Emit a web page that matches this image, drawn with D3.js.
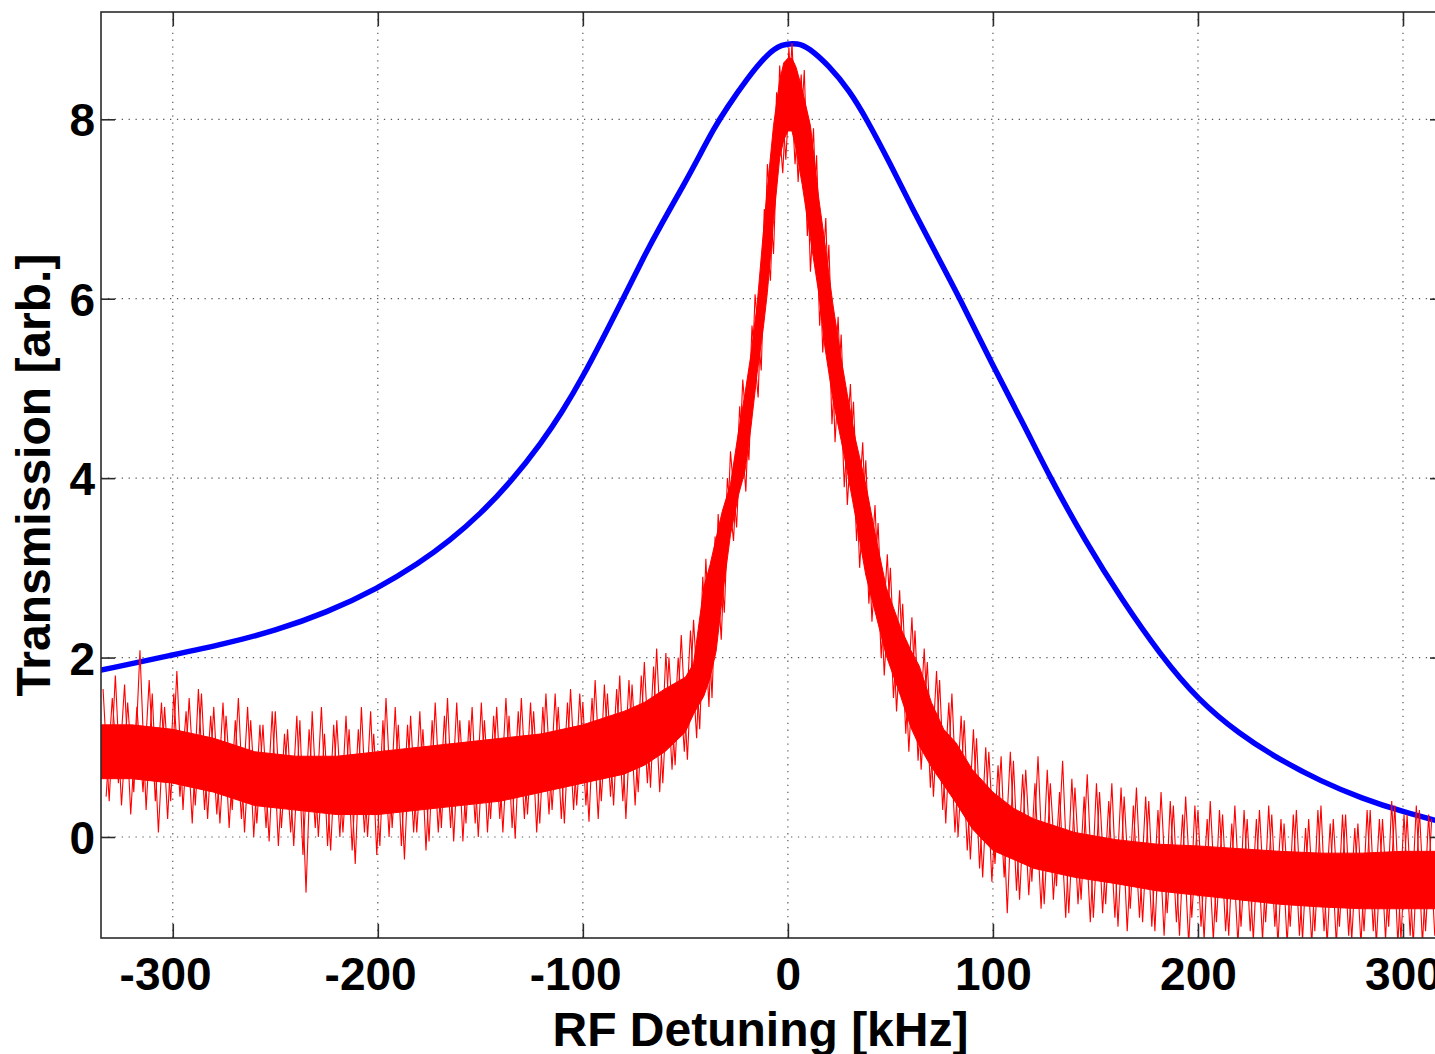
<!DOCTYPE html>
<html><head><meta charset="utf-8">
<script src="https://cdn.jsdelivr.net/npm/d3@7"></script>
<style>
html,body{margin:0;padding:0;background:#fff;overflow:hidden}
svg{display:block}
text{font-family:"Liberation Sans",Arial,Helvetica,sans-serif;font-weight:bold;fill:#000}
</style></head><body>
<svg id="chart" width="1435" height="1054"></svg>
<script>
// ---- data ----
const xLimits = [-335, 320];
const yLimits = [-1.126, 9.196];
const xTicks = [-300, -200, -100, 0, 100, 200, 300];
const yTicks = [0, 2, 4, 6, 8];
const xLabel = "RF Detuning [kHz]";
const yLabel = "Transmission [arb.]";

// blue (smooth) trace
const blueX = [-335,-300,-275,-250,-225,-200,-180,-165,-150,-135,-120,-110,-100,-90,-81,-70,-62,-50,-43,-36,-30,-20,-10,-3,5,10,20,30,38.5,50,60,70,84,100,115,128,145,163,182,200,220,240,260,280,300,320];
const blueY = [1.86,2.03,2.15,2.3,2.5,2.77,3.05,3.3,3.6,3.96,4.4,4.74,5.13,5.57,5.97,6.48,6.82,7.3,7.6,7.9,8.12,8.45,8.73,8.84,8.85,8.8,8.6,8.32,8.0,7.5,7.04,6.6,6.0,5.25,4.6,4.0,3.3,2.64,2.02,1.53,1.15,0.86,0.62,0.43,0.28,0.16];

// red (noisy) trace: dense core band
const redCoreX = [-335,-320,-300,-280,-260,-240,-220,-200,-180,-160,-140,-120,-100,-80,-70,-60,-50,-46,-41,-38,-35,-32,-28,-24,-21,-18,-15,-12,-10,-7,-4,-2,0,2,4,7,11,15,18,22,26,29,33,38,43,48,55,60,64,70,76,82,90,100,110,120,140,160,180,200,220,240,260,280,300,320];
const redCoreHi = [1.25,1.25,1.2,1.1,0.95,0.9,0.9,0.95,1.0,1.05,
  1.1,1.15,1.25,1.4,1.5,1.65,1.78,1.93,2.78,3.03,
  3.33,3.63,3.93,4.53,4.93,5.38,5.93,6.73,7.23,7.93,
  8.43,8.63,8.68,8.68,8.58,8.33,7.93,7.13,6.63,5.93,
  5.33,4.93,4.43,3.93,3.33,2.78,2.33,2.08,1.91,1.5,
  1.2,1.05,0.75,0.5,0.32,0.2,0.05,-0.03,-0.08,-0.1,
  -0.13,-0.16,-0.18,-0.18,-0.16,-0.16];
const redCoreLo = [0.65,0.65,0.6,0.5,0.35,0.3,0.25,0.25,0.3,0.35,
  0.4,0.5,0.6,0.7,0.8,0.95,1.17,1.37,1.57,1.77,
  2.07,2.67,3.37,3.82,4.07,4.57,5.17,5.67,6.07,6.87,
  7.57,7.77,7.87,7.87,7.67,7.27,6.67,6.07,5.47,4.87,
  4.42,4.07,3.57,2.92,2.47,2.02,1.57,1.22,1.02,0.78,
  0.58,0.38,0.09,-0.15,-0.25,-0.35,-0.45,-0.52,-0.6,-0.65,
  -0.7,-0.75,-0.78,-0.8,-0.8,-0.8];

// red trace extremes, two interleaved samplings (every 3 kHz)
const redTraceAStart = -334, redTraceBStart = -332.5, redTraceStep = 3;
const redTraceA = [
  1.65,0.4,1.8,0.35,1.5,0.5,2.08,0.3,1.6,0.05,
  1.45,0.4,1.85,0.3,1.55,0.35,1.6,0.2,1.45,0.15,
  1.35,0.3,1.55,0.05,1.3,0.15,1.25,-0.05,1.4,0.1,
  1.2,-0.1,1.3,-0.62,1.4,0.0,1.15,-0.15,1.3,0.05,
  1.2,-0.3,1.45,0.0,1.15,-0.1,1.55,0.1,1.25,-0.25,
  1.35,0.05,1.2,-0.05,1.5,0.1,1.55,-0.05,1.3,0.15,
  1.45,0.0,1.3,0.2,1.45,0.05,1.35,-0.02,1.55,0.25,
  1.4,0.15,1.6,0.3,1.45,0.15,1.65,0.35,1.5,0.17,
  1.75,0.4,1.6,0.35,1.8,0.2,1.7,0.5,1.95,0.55,
  2.1,0.6,2.0,0.8,2.25,0.86,2.42,1.2,3.1,1.55,
  3.6,2.5,4.3,3.45,5.1,4.2,6.05,5.2,7.5,6.5,
  8.6,7.55,8.85,7.3,8.55,6.3,7.6,5.4,6.6,4.4,
  5.6,3.7,4.85,3.0,4.2,2.4,3.5,1.8,3.0,1.4,
  2.6,0.95,2.3,0.75,1.95,0.45,1.75,0.15,1.6,0.0,
  1.3,-0.25,1.1,-0.45,0.95,-0.3,0.9,-0.85,0.85,-0.7,
  0.75,-0.5,0.9,-0.75,0.6,-0.55,0.85,-0.85,0.55,-0.7,
  0.7,-0.9,0.5,-0.75,0.6,-1.0,0.45,-0.8,0.55,-0.95,
  0.4,-1.05,0.5,-0.85,0.35,-1.1,0.45,-0.9,0.3,-1.15,
  0.4,-0.95,0.25,-1.1,0.35,-1.0,0.2,-1.15,0.3,-0.95,
  0.25,-1.2,0.15,-1.0,0.3,-1.15,0.2,-1.05,0.35,-1.2,
  0.2,-1.0,0.25,-1.15,0.15,-1.05,0.3,-1.2,0.2,-1.0,
  0.35,-1.15,0.25,-1.2,0.3,-1.05,0.2
];
const redTraceB = [
  0.45,1.55,0.6,1.7,0.25,1.45,0.5,1.75,0.4,1.5,
  0.2,1.6,0.45,1.4,0.15,1.65,0.3,1.35,0.25,1.5,
  0.1,1.3,0.2,1.45,0.0,1.25,0.1,1.4,-0.1,1.15,
  0.05,1.35,-0.2,1.2,0.1,1.45,-0.1,1.25,0.0,1.35,
  -0.15,1.2,0.05,1.4,-0.2,1.3,0.0,1.45,-0.1,1.25,
  0.05,1.4,-0.15,1.3,0.05,1.35,0.1,1.5,-0.05,1.3,
  0.15,1.5,0.05,1.35,0.2,1.55,0.1,1.4,0.2,1.5,
  0.05,1.45,0.25,1.6,0.2,1.5,0.3,1.6,0.35,1.55,
  0.2,1.7,0.45,1.65,0.4,1.75,0.35,1.8,0.6,1.9,
  0.5,2.05,0.75,2.0,0.95,2.3,1.1,2.9,1.45,3.35,
  2.2,4.0,3.3,4.8,3.85,5.7,4.9,7.0,6.2,8.3,
  7.4,8.8,7.5,8.5,6.7,7.9,5.7,6.9,4.6,5.8,
  3.9,5.05,3.3,4.4,2.6,3.7,2.0,3.15,1.55,2.75,
  1.15,2.45,0.85,2.1,0.55,1.85,0.3,1.5,0.05,1.35,
  -0.15,1.2,-0.35,1.0,-0.5,0.8,-0.45,0.95,-0.6,0.7,
  -0.65,0.6,-0.8,0.75,-0.7,0.5,-0.9,0.65,-0.75,0.45,
  -0.95,0.6,-0.85,0.4,-0.9,0.55,-1.05,0.35,-0.9,0.45,
  -1.0,0.3,-1.1,0.4,-0.95,0.25,-1.2,0.35,-1.0,0.2,
  -1.15,0.3,-1.05,0.15,-1.2,0.3,-1.05,0.2,-1.15,0.35,
  -1.0,0.2,-1.2,0.25,-1.1,0.1,-1.2,0.3,-1.05,0.15,
  -1.2,0.25,-1.1,0.1,-1.2,0.3,-1.05,0.2,-1.15,0.4,
  -1.2,0.25,-1.1,0.35,-1.2,0.25,-1.1
];

// ---- drawing ----
(function draw() {
const svg = d3.select("#chart");
const pLeft = 101, pRight = 1444, pTop = 12, pBottom = 938;
const x = d3.scaleLinear().domain(xLimits).range([pLeft, pRight]);
const y = d3.scaleLinear().domain(yLimits).range([pBottom, pTop]);
const axisColor = "#2b2b2b";

svg.append("defs").append("clipPath").attr("id", "plotclip")
  .append("rect").attr("x", pLeft).attr("y", pTop)
  .attr("width", pRight - pLeft).attr("height", pBottom - pTop);

// grid
const grid = svg.append("g").attr("stroke", "#5a5a5a").attr("stroke-width", 1.2)
  .attr("stroke-dasharray", "1.3,5.6");
grid.selectAll(".gx").data(xTicks).join("line")
  .attr("x1", d => x(d)).attr("x2", d => x(d)).attr("y1", pTop).attr("y2", pBottom);
grid.selectAll(".gy").data(yTicks).join("line")
  .attr("y1", d => y(d)).attr("y2", d => y(d)).attr("x1", pLeft).attr("x2", pRight);

const plot = svg.append("g").attr("clip-path", "url(#plotclip)");

// blue
const blueData = blueX.map((v, i) => [v, blueY[i]]);
plot.append("path").datum(blueData)
  .attr("fill", "none").attr("stroke", "#0000ff").attr("stroke-width", 5.5)
  .attr("stroke-linejoin", "round").attr("stroke-linecap", "round")
  .attr("d", d3.line().x(d => x(d[0])).y(d => y(d[1])).curve(d3.curveBasis));

// red core band
const coreData = redCoreX.map((v, i) => ({x: v, lo: redCoreLo[i], hi: redCoreHi[i]}));
plot.append("path").datum(coreData)
  .attr("fill", "#ff0000").attr("stroke", "#ff0000").attr("stroke-width", 1)
  .attr("d", d3.area().x(d => x(d.x)).y0(d => y(d.lo)).y1(d => y(d.hi)).curve(d3.curveLinear));

// red traces
const traceLine = d3.line().x(d => x(d[0])).y(d => y(d[1]));
[[redTraceA, redTraceAStart], [redTraceB, redTraceBStart]].forEach(([vals, start]) => {
  const data = vals.map((v, i) => [start + i * redTraceStep, v]);
  plot.append("path").datum(data)
    .attr("fill", "none").attr("stroke", "#ff0000").attr("stroke-width", 1.1)
    .attr("stroke-linejoin", "bevel").attr("d", traceLine);
});

// axes (ticks inward)
const fontTick = 46;
const fmt = d => String(d);
const gB = svg.append("g").attr("transform", `translate(0,${pBottom})`)
  .call(d3.axisBottom(x).tickValues(xTicks).tickSize(-14).tickFormat(fmt));
const gT = svg.append("g").attr("transform", `translate(0,${pTop})`)
  .call(d3.axisTop(x).tickValues(xTicks).tickSize(-14).tickFormat(""));
const gL = svg.append("g").attr("transform", `translate(${pLeft},0)`)
  .call(d3.axisLeft(y).tickValues(yTicks).tickSize(-14).tickPadding(6).tickFormat(fmt));
const gR = svg.append("g").attr("transform", `translate(${pRight},0)`)
  .call(d3.axisRight(y).tickValues(yTicks).tickSize(-14).tickFormat(""));
[gB, gT, gL, gR].forEach(g => {
  g.select(".domain").remove();
  g.selectAll(".tick line").attr("stroke", axisColor).attr("stroke-width", 1.6);
  g.selectAll("text").attr("font-size", fontTick).attr("fill", "#000")
    .attr("font-family", '"Liberation Sans",Arial,Helvetica,sans-serif').attr("font-weight", "bold");
});
// x tick labels: digits centred on the tick, minus hanging to the left
const measure = svg.append("text").attr("font-size", fontTick).attr("visibility", "hidden");
gB.selectAll(".tick text").each(function(d) {
  measure.text(String(Math.abs(d)));
  const w = measure.node().getComputedTextLength();
  d3.select(this).attr("text-anchor", "end").attr("x", w / 2).attr("y", 52).attr("dy", 0);
});
measure.remove();
gL.selectAll(".tick text").attr("dy", "0.36em");

// box
svg.append("rect").attr("x", pLeft).attr("y", pTop)
  .attr("width", pRight - pLeft).attr("height", pBottom - pTop)
  .attr("fill", "none").attr("stroke", axisColor).attr("stroke-width", 1.6);

// labels
svg.append("text").attr("x", (pLeft + pRight) / 2 - 12).attr("y", 1046)
  .attr("text-anchor", "middle").attr("font-size", 48).text(xLabel);
svg.append("text").attr("transform", `translate(50,${(pTop + pBottom) / 2}) rotate(-90)`)
  .attr("text-anchor", "middle").attr("font-size", 48).text(yLabel);
})();
</script>
</body></html>
